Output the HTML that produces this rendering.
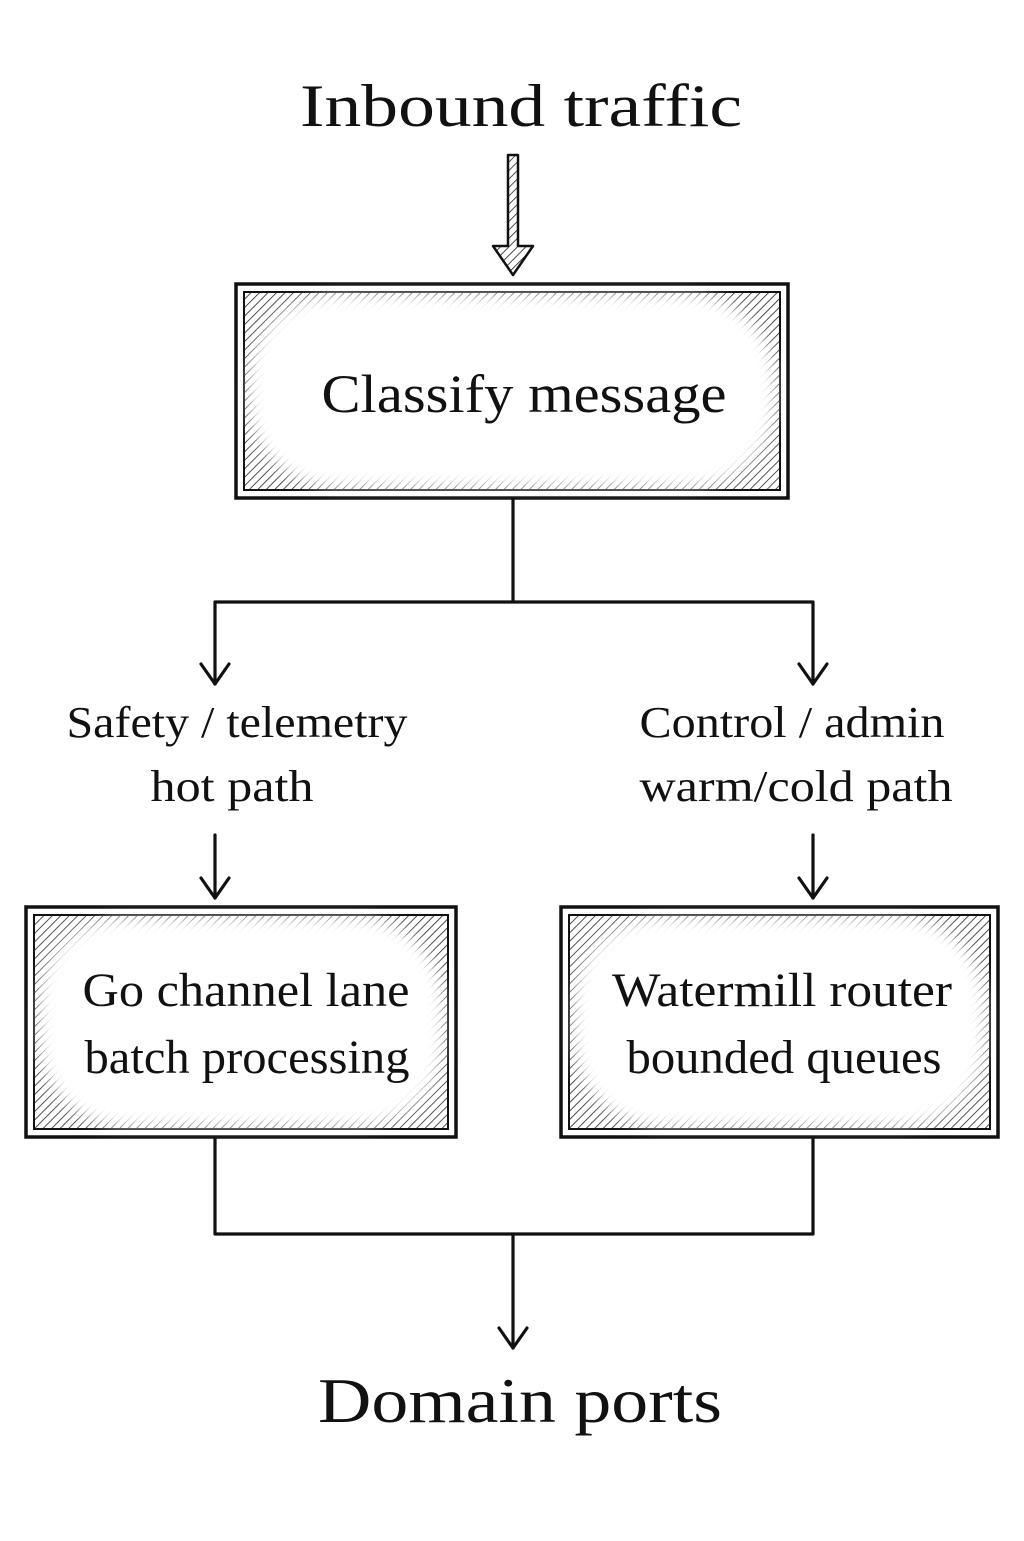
<!DOCTYPE html>
<html><head><style>html,body{margin:0;padding:0;background:#fff}</style></head>
<body>
<svg width="1024" height="1536" viewBox="0 0 1024 1536" xmlns="http://www.w3.org/2000/svg" font-family="'Liberation Serif',serif" fill="#111">
<defs>
<pattern id="h" width="6" height="6" patternUnits="userSpaceOnUse" patternTransform="rotate(45)">
<line x1="0" y1="0" x2="0" y2="6" stroke="#222" stroke-width="1.6"/>
</pattern>
<filter id="b" x="-20%" y="-20%" width="140%" height="140%"><feGaussianBlur stdDeviation="7"/></filter>
</defs>
<rect width="1024" height="1536" fill="#fff"/>
<text x="521" y="126" font-size="60" text-anchor="middle" textLength="442" lengthAdjust="spacingAndGlyphs">Inbound traffic</text>
<path d="M508,155 H518 V246 H533 L513,275 L493,246 H508 Z" fill="url(#h)" stroke="#111" stroke-width="2.5" stroke-linejoin="round"/>
<rect x="236" y="284" width="552" height="214" fill="#fff" stroke="#111" stroke-width="3.5"/>
<rect x="244" y="292" width="536" height="198" fill="url(#h)" stroke="#111" stroke-width="2"/>
<rect x="250" y="296" width="524" height="190" rx="85" fill="#fff" filter="url(#b)"/>
<text x="524" y="412" font-size="54" text-anchor="middle" textLength="405" lengthAdjust="spacingAndGlyphs">Classify message</text>
<g stroke="#111" stroke-width="3.2" fill="none" stroke-linecap="round" stroke-linejoin="round">
<path d="M513,499 V602 M215,602 H813 M215,602 V684 M813,602 V684"/>
<path d="M201,664 L215,684 L229,664 M799,664 L813,684 L827,664"/>
<path d="M215,835 V898 M813,835 V898"/>
<path d="M201,878 L215,898 L229,878 M799,878 L813,898 L827,878"/>
<path d="M215,1138 V1234 H813 V1138 M513,1234 V1348"/>
<path d="M499,1328 L513,1348 L527,1328"/>
</g>
<text x="237" y="737" font-size="44" text-anchor="middle" textLength="341" lengthAdjust="spacingAndGlyphs">Safety / telemetry</text>
<text x="232" y="801" font-size="44" text-anchor="middle" textLength="163" lengthAdjust="spacingAndGlyphs">hot path</text>
<text x="792" y="737" font-size="44" text-anchor="middle" textLength="305" lengthAdjust="spacingAndGlyphs">Control / admin</text>
<text x="796" y="801" font-size="44" text-anchor="middle" textLength="313" lengthAdjust="spacingAndGlyphs">warm/cold path</text>
<rect x="26" y="907" width="430" height="230" fill="#fff" stroke="#111" stroke-width="3.5"/>
<rect x="34" y="915" width="414" height="214" fill="url(#h)" stroke="#111" stroke-width="2"/>
<rect x="40" y="919" width="402" height="206" rx="85" fill="#fff" filter="url(#b)"/>
<text x="246" y="1006" font-size="48" text-anchor="middle" textLength="327" lengthAdjust="spacingAndGlyphs">Go channel lane</text>
<text x="247" y="1073" font-size="48" text-anchor="middle" textLength="325" lengthAdjust="spacingAndGlyphs">batch processing</text>
<rect x="561" y="907" width="437" height="230" fill="#fff" stroke="#111" stroke-width="3.5"/>
<rect x="569" y="915" width="421" height="214" fill="url(#h)" stroke="#111" stroke-width="2"/>
<rect x="575" y="919" width="409" height="206" rx="85" fill="#fff" filter="url(#b)"/>
<text x="782" y="1006" font-size="48" text-anchor="middle" textLength="340" lengthAdjust="spacingAndGlyphs">Watermill router</text>
<text x="784" y="1073" font-size="48" text-anchor="middle" textLength="315" lengthAdjust="spacingAndGlyphs">bounded queues</text>
<text x="520" y="1422" font-size="64" text-anchor="middle" textLength="404" lengthAdjust="spacingAndGlyphs">Domain ports</text>
</svg>
</body></html>
